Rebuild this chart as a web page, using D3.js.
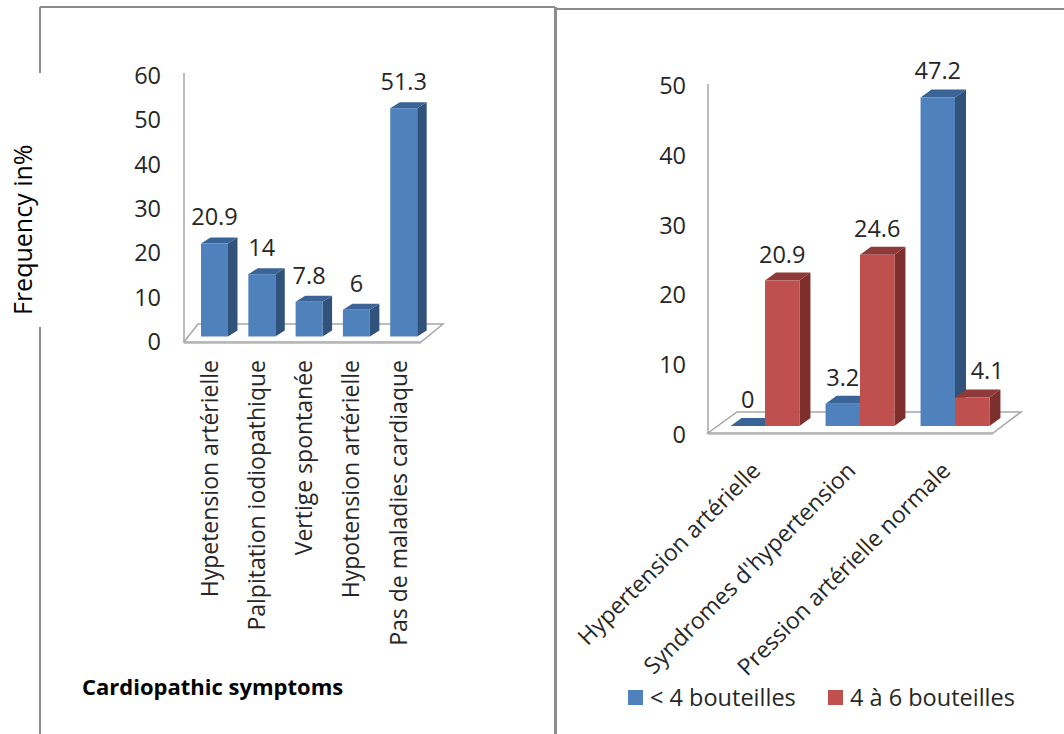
<!DOCTYPE html>
<html><head><meta charset="utf-8">
<script src="https://cdn.jsdelivr.net/npm/d3@7"></script>
<style>
html,body{margin:0;padding:0;background:#fff}
svg{display:block}
text{font-family:"Open Sans",sans-serif;fill:#262626}
</style></head><body>
<svg id="c" width="1064" height="734"></svg>
<script>
const leftCategories=["Hypetension artérielle","Palpitation iodiopathique","Vertige spontanée","Hypotension artérielle","Pas de maladies cardiaque"];
const leftValues=[20.9,14,7.8,6,51.3];
const leftTicks=[0,10,20,30,40,50,60];
const rightCategories=["Hypertension artérielle","Syndromes d'hypertension","Pression artérielle normale"];
const seriesNames=["< 4 bouteilles","4 à 6 bouteilles"];
const seriesLow=[0,3.2,47.2];
const seriesHigh=[20.9,24.6,4.1];
const rightTicks=[0,10,20,30,40,50];
const xTitle="Cardiopathic symptoms";
const yTitle="Frequency in%";

const BLUE={front:"#4f81bd",side:"#31527b",top:"#3a6496"};
const RED={front:"#c0504d",side:"#7d2f2d",top:"#8e3a38"};
const svg=d3.select("#c");
const line=(a,b,c,d,col,w)=>svg.append("line").attr("x1",a).attr("y1",b).attr("x2",c).attr("y2",d).attr("stroke",col).attr("stroke-width",w);

// panel frames
const FRAME="#8c8c8c";
line(40,7,555,7,FRAME,2);
line(40,7,40,734,FRAME,2);
line(555.5,7,555.5,734,FRAME,3);
line(556,9,1064,9,FRAME,2);
svg.append("rect").attr("x",0).attr("y",73).attr("width",42).attr("height",254).attr("fill","#fff");

function bar(x,yTop,yBase,w,dx,dy,c){
  const poly=(pts,f)=>svg.append("polygon").attr("points",pts.map(p=>p.join(",")).join(" ")).attr("fill",f);
  poly([[x+w,yTop],[x+w+dx,yTop-dy],[x+w+dx,yBase-dy],[x+w,yBase]],c.side);
  poly([[x,yTop],[x+dx,yTop-dy],[x+w+dx,yTop-dy],[x+w,yTop]],c.top);
  if(yBase>yTop) svg.append("rect").attr("x",x).attr("y",yTop).attr("width",w).attr("height",yBase-yTop).attr("fill",c.front);
}
function floor(x0,x1,xb0,xb1,yF,yB,wallTop){
  const col="#a6a6a6";
  svg.append("polygon").attr("points",`${x0},${yF} ${x1},${yF} ${xb1},${yB} ${xb0},${yB}`).attr("fill","#fff").attr("stroke",col).attr("stroke-width",1.5);
  line(x0,yF+1,x1,yF+1,"#b5b5b5",1.5);
  line(x0,wallTop,x0,yF,col,1.5);
}
function yAxis(scale,ticks,x){
  const g=svg.append("g").attr("transform",`translate(${x},0)`)
    .call(d3.axisLeft(scale).tickValues(ticks).tickSize(0).tickPadding(0).tickFormat(d3.format("d")));
  g.select(".domain").remove();
  g.selectAll("text").attr("font-size",23.5).style("font-family",'"Open Sans",sans-serif').attr("fill","#262626");
}

// LEFT CHART
floor(184,421,198,443,342,324,73);
const xL=d3.scaleBand().domain(leftCategories).range([190.85,427.35]).paddingInner(0.43).paddingOuter(0.215);
const yLa=d3.scaleLinear().domain([0,60]).range([342,76]);
const yLb=d3.scaleLinear().domain([0,60]).range([336.5,69.5]);
yAxis(yLa,leftTicks,161);
leftCategories.forEach((c,i)=>{
  const x=xL(c),w=xL.bandwidth(),yT=yLb(leftValues[i]);
  bar(x,yT,yLb(0),w,9.5,6,BLUE);
  svg.append("text").attr("x",x+w/2).attr("y",yT-18).attr("text-anchor","middle").attr("font-size",23.5).text(leftValues[i]);
  svg.append("text").attr("transform",`translate(${x+w/2+3},360) rotate(-90)`).attr("text-anchor","end").attr("font-size",23).text(c);
});
svg.append("text").attr("x",82).attr("y",695).attr("font-size",22).attr("font-weight",700).style("fill","#000").text(xTitle);
svg.append("text").attr("transform","translate(32,315) rotate(-90)").attr("font-size",25).style("fill","#000").text(yTitle);

// RIGHT CHART
floor(708,993,737,1021,433,412,84);
const xR=d3.scaleBand().domain(rightCategories).range([717.5,1002.5]).paddingInner(0.275).paddingOuter(0.1375);
const xS=d3.scaleBand().domain(seriesNames).range([0,xR.bandwidth()]);
const yRa=d3.scaleLinear().domain([0,50]).range([435,86]);
const yRb=d3.scaleLinear().domain([0,50]).range([426,78]);
yAxis(yRa,rightTicks,686);
const labelShift=[[0,0],[0,0],[0,15]];
rightCategories.forEach((c,i)=>{
  [seriesLow,seriesHigh].forEach((vals,s)=>{
    const x=xR(c)+xS(seriesNames[s]),w=xS.bandwidth(),yT=yRb(vals[i]);
    bar(x,yT,yRb(0),w,11,8,s?RED:BLUE);
  });
});
rightCategories.forEach((c,i)=>{
  [seriesLow,seriesHigh].forEach((vals,s)=>{
    const x=xR(c)+xS(seriesNames[s]),w=xS.bandwidth(),yT=yRb(vals[i]);
    svg.append("text").attr("x",x+w/2+labelShift[i][s]).attr("y",yT-18).attr("text-anchor","middle").attr("font-size",23.5).text(vals[i]);
  });
  const cx=xR(c)+xR.bandwidth()/2;
  svg.append("text").attr("transform",`translate(${cx-3},472) rotate(-45)`).attr("text-anchor","end").attr("font-size",23).text(c);
});

// LEGEND
const legendX=d3.scaleOrdinal().domain(seriesNames).range([628,828]);
seriesNames.forEach((n,s)=>{
  svg.append("rect").attr("x",legendX(n)).attr("y",690).attr("width",15).attr("height",15).attr("fill",s?RED.front:BLUE.front);
  svg.append("text").attr("x",legendX(n)+22).attr("y",706).attr("font-size",23.5).text(n);
});
</script>
</body></html>
